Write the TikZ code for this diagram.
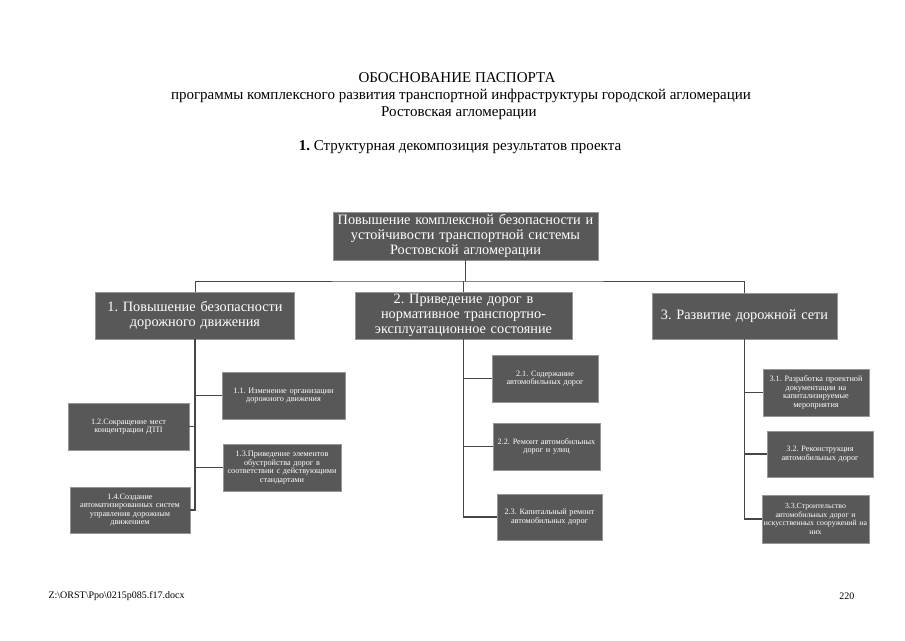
\documentclass[tikz,border=0pt]{standalone}
\usepackage{fontspec}
\setmainfont{Liberation Serif}
\frenchspacing
\definecolor{boxfill}{RGB}{88,88,88}
\definecolor{boxline}{RGB}{150,150,150}
\definecolor{linkgray}{RGB}{70,70,70}
\tikzset{
  bigbox/.style={draw=boxline, fill=boxfill, text=white, align=center, inner sep=2pt,
    font=\fontsize{14.3}{15}\selectfont},
  smallbox/.style={draw=boxline, fill=boxfill, text=white, align=center, inner sep=1pt,
    font=\fontsize{8.2}{8.6}\selectfont},
  link/.style={draw=linkgray, line width=1.3pt}
}
\begin{document}
\begin{tikzpicture}[x=1pt, y=-1pt]
    \useasboundingbox (0,0) rectangle (905,640);

    % Heading of the page
    \node (head1) at (457,78) [font=\fontsize{15}{16}\selectfont] {ОБОСНОВАНИЕ ПАСПОРТА};
    \node (head2) at (461,96) [font=\fontsize{15}{16}\selectfont] {программы комплексного развития транспортной инфраструктуры городской агломерации};
    \node (head3) at (459,113) [font=\fontsize{15}{16}\selectfont] {Ростовская агломерации};
    \node (head4) at (460,147) [font=\fontsize{15}{16}\selectfont] {\textbf{1.} Структурная декомпозиция результатов проекта};

    % Top goal
    \node (top) at (465.5,236) [bigbox, minimum width=265pt, minimum height=48pt, text width=261pt]
      {Повышение комплексной безопасности и\\ устойчивости транспортной системы\\ Ростовской агломерации};

    % Second level
    \node (b1) at (195,315.5) [bigbox, minimum width=199pt, minimum height=47pt, text width=195pt]
      {1. Повышение безопасности\\ дорожного движения};
    \node (b2) at (463.5,315.5) [bigbox, minimum width=217pt, minimum height=47pt, text width=213pt]
      {2. Приведение дорог в\\ нормативное транспортно-\\ эксплуатационное состояние};
    \node (b3) at (744.5,316) [bigbox, minimum width=185pt, minimum height=46pt, text width=181pt]
      {3. Развитие дорожной сети};

    % Third level, branch 1
    \node (b11) at (283.5,395.5) [smallbox, minimum width=123pt, minimum height=47pt, text width=121pt]
      {1.1. Изменение организации\\ дорожного движения};
    \node (b12) at (128.5,426.5) [smallbox, minimum width=121pt, minimum height=47pt, text width=119pt]
      {1.2.Сокращение мест\\ концентрации ДТП};
    \node (b13) at (282,467.5) [smallbox, minimum width=118pt, minimum height=47pt, text width=116pt]
      {1.3.Приведение элементов\\ обустройства дорог в\\ соответствии с действующими\\ стандартами};
    \node (b14) at (130,510) [smallbox, minimum width=120pt, minimum height=46pt, text width=118pt]
      {1.4.Создание\\ автоматизированных систем\\ управления дорожным\\ движением};

    % Third level, branch 2
    \node (b21) at (545,378.5) [smallbox, minimum width=106pt, minimum height=47pt, text width=104pt]
      {2.1. Содержание\\ автомобильных дорог};
    \node (b22) at (546.5,446.5) [smallbox, minimum width=107pt, minimum height=47pt, text width=105pt]
      {2.2. Ремонт автомобильных\\ дорог и улиц};
    \node (b23) at (549.5,517) [smallbox, minimum width=105pt, minimum height=46pt, text width=103pt]
      {2.3. Капитальный ремонт\\ автомобильных дорог};

    % Third level, branch 3
    \node (b31) at (816,392.5) [smallbox, minimum width=106pt, minimum height=47pt, text width=104pt]
      {3.1. Разработка проектной\\ документации на\\ капитализируемые\\ мероприятия};
    \node (b32) at (820,454) [smallbox, minimum width=106pt, minimum height=46pt, text width=104pt]
      {3.2. Реконструкция\\ автомобильных дорог};
    \node (b33) at (815.5,519) [smallbox, minimum width=107pt, minimum height=48pt, text width=105pt,
      font=\fontsize{7.8}{8.6}\selectfont]
      {3.3.Строительство\\ автомобильных дорог и\\ искусственных сооружений на\\ них};

    % Connectors between levels
    \coordinate (bus) at (465.5,281);
    \draw[link, line width=1pt] (top.south) -- (bus);
    \draw[link, line width=1pt] (b1.north) |- (bus) -| (b3.north);
    \draw[link, line width=1pt] (b2.north) -- (b2.north |- bus);

    % Branch 1
    \draw[link] (b1.south) -- (b1.south |- b14.east) -- (b14.east);
    \draw[link] (b1.south |- b11.west) -- (b11.west);
    \draw[link] (b1.south |- b12.east) -- (b12.east);
    \draw[link] (b1.south |- b13.west) -- (b13.west);

    % Branch 2
    \draw[link] (b2.south) -- (b2.south |- b23.west) -- (b23.west);
    \draw[link] (b2.south |- b21.west) -- (b21.west);
    \draw[link] (b2.south |- b22.west) -- (b22.west);

    % Branch 3
    \draw[link] (b3.south) -- (b3.south |- b33.west) -- (b33.west);
    \draw[link] (b3.south |- b31.west) -- (b31.west);
    \draw[link] (b3.south |- b32.west) -- (b32.west);

    % Footer
    \node (file) at (45,596) [anchor=west, font=\fontsize{10}{12}\selectfont]
      {Z:\textbackslash ORST\textbackslash Ppo\textbackslash 0215p085.f17.docx};
    \node (page) at (858,596) [anchor=east, font=\fontsize{10}{12}\selectfont] {220};
\end{tikzpicture}
\end{document}
